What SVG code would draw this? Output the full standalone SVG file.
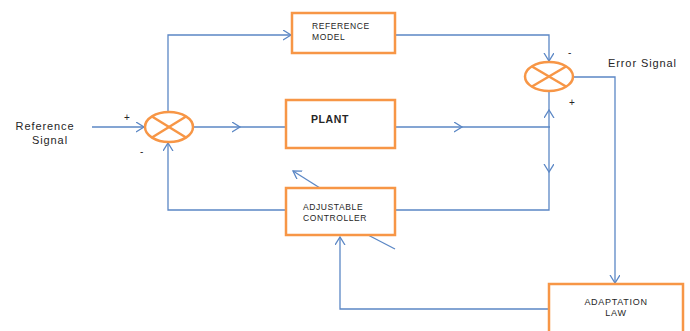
<svg xmlns="http://www.w3.org/2000/svg" width="690" height="331" viewBox="0 0 690 331">
<style>
.box{fill:#fff;stroke:#F79646;stroke-width:2.5}
.sum{fill:none;stroke:#F79646;stroke-width:2.5}
.ln{fill:none;stroke:#5B87C5;stroke-width:1.3}
.t{font-family:"Liberation Sans",Arial,sans-serif;fill:#262626;}
.s{font-size:8.5px;letter-spacing:0.6px}
.m{font-size:11px;letter-spacing:0.9px}
</style>
<defs>
<marker id="a" markerUnits="userSpaceOnUse" markerWidth="12" markerHeight="12" refX="8" refY="5" orient="auto">
<path d="M0,0 L8,5 L0,10" fill="none" stroke="#5B87C5" stroke-width="1.3"/>
</marker>
</defs>
<rect width="690" height="331" fill="#fff"/>
<g id="connectors">
<line class="ln" x1="92" y1="127" x2="144" y2="127" marker-end="url(#a)"/>
<polyline class="ln" points="168,112 168,35 291,35" marker-end="url(#a)"/>
<line class="ln" x1="193" y1="127" x2="240" y2="127" marker-end="url(#a)"/>
<line class="ln" x1="240" y1="127" x2="286" y2="127"/>
<line class="ln" x1="395" y1="127" x2="462" y2="127" marker-end="url(#a)"/>
<line class="ln" x1="462" y1="127" x2="550" y2="127"/>
<polyline class="ln" points="395,35 549,35 549,61" marker-end="url(#a)"/>
<line class="ln" x1="549" y1="127" x2="549" y2="110" marker-end="url(#a)"/>
<line class="ln" x1="549" y1="110" x2="549" y2="91"/>
<line class="ln" x1="549" y1="127" x2="549" y2="172" marker-end="url(#a)"/>
<polyline class="ln" points="549,172 549,210 395,210"/>
<polyline class="ln" points="286,210 168,210 168,143" marker-end="url(#a)"/>
<polyline class="ln" points="573,77 615,77 615,283" marker-end="url(#a)"/>
<polyline class="ln" points="549,309 340,309 340,237" marker-end="url(#a)"/>
<line class="ln" x1="320" y1="188" x2="293" y2="171" marker-end="url(#a)"/>
<line class="ln" x1="368" y1="235" x2="395" y2="249"/>
</g>
<g id="sum1">
<ellipse class="sum" cx="169" cy="127" rx="24" ry="15"/>
<line class="sum" x1="152" y1="116.5" x2="186" y2="137.5"/>
<line class="sum" x1="152" y1="137.5" x2="186" y2="116.5"/>
</g>
<g id="sum2">
<ellipse class="sum" cx="549" cy="76.5" rx="24" ry="14.5"/>
<line class="sum" x1="532" y1="66.5" x2="566" y2="86.5"/>
<line class="sum" x1="532" y1="86.5" x2="566" y2="66.5"/>
</g>
<g id="refmodel">
<rect class="box" x="292" y="13" width="103" height="40"/>
<text class="t s" x="312" y="29">REFERENCE</text>
<text class="t s" x="312" y="40">MODEL</text>
</g>
<g id="plant">
<rect class="box" x="286" y="100" width="109" height="48"/>
<text class="t" x="311" y="123" font-size="10.5" font-weight="bold" letter-spacing="0.6">PLANT</text>
</g>
<g id="controller">
<rect class="box" x="286" y="188" width="109" height="47"/>
<text class="t s" x="303" y="210">ADJUSTABLE</text>
<text class="t s" x="303" y="221">CONTROLLER</text>
</g>
<g id="adaptation">
<rect class="box" x="549" y="284" width="134" height="52"/>
<text class="t" x="616" y="305" font-size="9" letter-spacing="0.7" text-anchor="middle">ADAPTATION</text>
<text class="t" x="616" y="316" font-size="9" letter-spacing="0.7" text-anchor="middle">LAW</text>
</g>
<g id="labels">
<text class="t m" x="45" y="130" text-anchor="middle">Reference</text>
<text class="t m" x="50" y="144" text-anchor="middle">Signal</text>
<text class="t m" x="608" y="67">Error Signal</text>
<text class="t" x="124" y="121" font-size="10">+</text>
<text class="t" x="140" y="155" font-size="10">-</text>
<text class="t" x="568" y="56" font-size="10">-</text>
<text class="t" x="569" y="106" font-size="10">+</text>
</g>
</svg>
